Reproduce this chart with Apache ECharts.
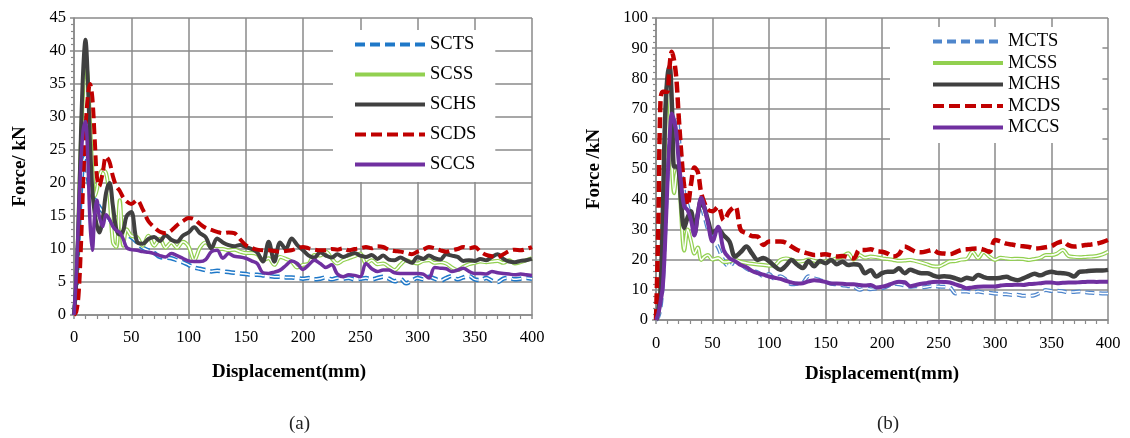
<!DOCTYPE html>
<html>
<head>
<meta charset="utf-8">
<script src="https://cdn.jsdelivr.net/npm/echarts@6/dist/echarts.min.js"></script>
<style>
html, body { margin: 0; padding: 0; background: #fff; }
#chart { width: 1130px; height: 438px; }
</style>
</head>
<body>
<div id="chart"></div>
<script>
// displacement samples (mm), shared by both panels
const disp = [0, 2, 4, 6, 8, 10, 12, 14, 16, 18, 20, 22, 25, 28, 31, 34, 37, 40, 43, 46, 50,
  55, 60, 65, 70, 75, 80, 85, 90, 95, 100,
  105, 110, 115, 120, 125, 130, 135, 140, 145, 150,
  155, 160, 165, 170, 175, 180, 185, 190, 195, 200,
  205, 210, 215, 220, 225, 230, 235, 240, 245, 250,
  255, 260, 265, 270, 275, 280, 285, 290, 295, 300,
  305, 310, 315, 320, 325, 330, 335, 340, 345, 350,
  355, 360, 365, 370, 375, 380, 385, 390, 395, 400]

// panel (a) force, kN
const scts = [0, 4, 12, 19, 23, 24, 21, 19, 18, 17.5, 17, 16.4, 15.7, 15.4, 14.6, 13.8, 13.3, 12.8, 12.4, 12.1, 11.8,
  11, 10.2, 9.8, 9.4, 8.8, 8.7, 8.6, 8.3, 8.0, 7.6,
  7.2, 7.0, 6.8, 6.6, 6.7, 6.6, 6.5, 6.4, 6.3, 6.2,
  6.1, 6.1, 6.0, 5.9, 5.8, 5.8, 5.7, 5.7, 5.6, 5.5,
  5.6, 5.4, 5.5, 5.7, 5.4, 5.6, 5.5, 5.6, 5.4, 5.5,
  5.6, 5.4, 5.6, 5.8, 5.5, 5.1, 5.5, 4.8, 5.2, 5.6,
  5.4, 5.8, 5.5, 5.2, 5.6, 5.9, 5.4, 5.7, 5.9, 5.4,
  5.3, 5.6, 5.2, 5.0, 5.5, 5.6, 5.4, 5.5, 5.6, 5.5]
const scss = [0, 5, 15, 26, 34, 38.5, 36, 29, 22, 18, 19, 21, 22, 21.5, 18, 11, 10.3, 17.4, 10.5, 13, 12,
  11.8, 10.5, 12, 10.5, 11.5, 10.2, 11, 10.2, 11.1, 10.4,
  8.3, 10.2, 11, 10.2, 10, 10, 9.8, 9.9, 9.6, 9.4,
  9.4, 9.2, 8.3, 8.6, 7.6, 8.8, 8.5, 8.1, 7.2, 7.6,
  7.8, 9.1, 9.0, 9.6, 8.6, 7.8, 8.3, 8.6, 8.9, 9.3,
  7.8, 8.3, 7.7, 7.8, 7.3, 6.8, 7.6, 8.3, 8.0, 7.8,
  8.2, 8.3, 7.9, 8.0, 7.8, 7.2, 6.8, 7.3, 7.7, 7.9,
  8.1, 8.0, 8.1, 8.2, 7.9, 8.3, 7.8, 8.0, 8.3, 8.6]
const schs = [0, 5, 14, 27, 37, 41.7, 36, 26, 19, 15.5, 13.5, 12.5, 14.5, 18.5, 20, 16.5, 13, 12.2, 12.8, 15, 15.6,
  11.1, 10.8, 11.5, 11.8, 11.2, 12.1, 11.4, 11.1, 12, 12.5,
  13.3, 12.4, 11.8, 10.1, 11.6, 11, 10.6, 10.4, 10.6, 10.3,
  10, 9.5, 8.1, 11.1, 8.1, 11, 10, 11.6, 10.6, 9.8,
  9, 8.7, 9.5, 9, 8.7, 9.2, 8.8, 9.1, 9.4, 9,
  8.8, 9.1, 8.5, 9, 8.4, 8.3, 8.7, 8.3, 7.9, 8.8,
  8.5, 9, 8.6, 8.4, 9.2, 9, 8.8, 8.2, 8.3, 8.2,
  8.5, 8.3, 8.8, 9.2, 8.5, 8.1, 8, 8.2, 8.3, 8.5]
const scds = [0, 0.5, 3, 10, 20, 28, 33, 35, 33, 27, 21, 19.5, 21.5, 24, 23.2, 21, 19.5, 18.8, 17.8, 17.2, 16.8,
  17.4, 16, 14.2, 13.3, 12.6, 12.4, 12.8, 13.6, 14.2, 14.7,
  14.5, 13.8, 13.2, 12.9, 12.6, 12.4, 12.5, 12.4, 11.5, 10.6,
  10.2, 9.9, 9.8, 9.8, 9.7, 9.6, 9.7, 9.8, 10.1, 10.3,
  10.1, 9.9, 9.8, 9.8, 10, 9.9, 10.1, 9.8, 10, 10.1,
  10.3, 10.1, 10.4, 10.3, 9.9, 9.7, 9.6, 9.4, 9.2, 9.6,
  9.9, 10.3, 10.1, 9.8, 9.6, 9.8, 10, 10.3, 10.1, 10.3,
  9.6, 9.1, 8.9, 8.8, 9.2, 9.7, 9.9, 9.8, 10, 10.3]
const sccs = [0, 6, 15, 23, 28, 29.3, 24, 14, 9.8, 15, 17.4, 15, 13.4, 15.2, 14.5, 13.4, 12.8, 12.5, 11.5, 10.2, 9.9,
  9.8, 9.6, 9.5, 9.3, 9.0, 8.8, 9.3, 9.0, 8.6, 8.2,
  8.1, 8.1, 8.4, 9.6, 9.8, 8.6, 9.3, 8.9, 8.8, 8.6,
  8.2, 7.8, 6.4, 6.3, 6.5, 6.8, 7.5, 8.2, 7.8, 6.9,
  7.6, 8.3, 7.8, 7.2, 7.6, 6.2, 5.8, 6.1, 6.0, 5.8,
  7.8, 7.0, 6.6, 6.8, 6.8, 6.4, 6.3, 6.3, 6.3, 6.3,
  6.2, 5.6, 7.2, 7.1, 7.0, 6.6, 6.8, 7.1, 6.6, 6.3,
  6.3, 6.2, 6.6, 6.4, 6.3, 6.2, 6.1, 6.2, 6.1, 6.0]

// panel (b) force, kN
const mcts = [0, 1, 4, 12, 28, 46, 58, 64, 66.5, 67.3, 62, 52, 42, 38, 34, 31, 35, 37, 34, 30, 27,
  24, 19.5, 17.7, 19.5, 18.5, 17, 16.2, 15.8, 14.5, 15.2,
  13.6, 14.5, 13.4, 11.8, 12, 12.4, 14.5, 13.8, 13.2, 12.6,
  12, 11.8, 11.5, 11.2, 11, 10, 10.5, 10.2, 10.4, 10.5,
  11.2, 12, 11.8, 11.4, 11, 11.2, 10.8, 11, 11.3, 11.1,
  11, 10.8, 8.8, 9.4, 9.4, 9.2, 9.4, 9.1, 9.0, 8.8,
  8.6, 8.5, 8.3, 8.4, 8.0, 8.0, 8.2, 9.0, 9.9, 9.6,
  9.7, 9.5, 9.2, 9.3, 9.4, 9.2, 9.0, 8.9, 8.8, 8.8]
const mcss = [0, 2, 8, 30, 60, 78, 72, 52, 42, 48, 50.8, 37, 23, 30, 26, 22, 24, 19.9, 21, 21.5, 20,
  20.5, 19.2, 19.4, 19.9, 19.3, 18.9, 18.6, 18.4, 18.2, 18,
  18.2, 19.9, 20.4, 20, 19.3, 19.5, 20, 19.6, 19.1, 19.5,
  19.8, 20.5, 21, 22.1, 20, 21.5, 20.6, 21, 20.8, 20.4,
  20.2, 19.9, 19.6, 19.7, 19.9, 19.5, 19.0, 18.4, 17.8, 17.7,
  18.5, 19.4, 19.5, 20, 20.2, 22.6, 20.5, 22.5, 21, 19.9,
  20.6, 20.4, 20.2, 20.3, 20.2, 19.9, 20.2, 20.6, 21.5, 21.5,
  22, 23.2, 21.2, 20.9, 20.8, 20.9, 21.0, 21.2, 21.7, 22.6]
const mchs = [0, 3, 10, 35, 66, 80, 84, 72, 50.8, 50.8, 50, 40, 30.5, 34, 36, 28.5, 35, 39.7, 37, 33, 29,
  30, 28, 26, 21, 22.5, 24.3, 22, 19.9, 20.5, 19.5,
  17.8, 16.6, 18, 19.9, 18.3, 17.2, 19.5, 17.8, 19.5, 18.8,
  19.9, 18.5, 19.3, 18.2, 18.5, 18.2, 15.5, 16.5, 14.4, 15.5,
  16, 16, 17.1, 15.5, 16.6, 16, 15.5, 15.5, 14.8, 14.3,
  14.5, 14.3, 13.8, 13.2, 14.0, 13.6, 14.9, 14.2, 13.8, 13.8,
  14.0, 14.3, 13.6, 13.2, 13.8, 14.6, 15.3, 14.8, 15.5, 16.0,
  15.6, 15.5, 15.2, 14.4, 16.0, 16.1, 16.3, 16.4, 16.4, 16.6]
const mcds = [0, 30, 73, 75.6, 75.6, 75.6, 84, 88.8, 86, 80, 68, 57, 44, 38, 45, 50.5, 49, 42, 38.6, 36.5, 36,
  37.5, 33, 36, 37.5, 29.8, 28.7, 27.8, 27.6, 24.8, 26,
  26, 26, 25.6, 24.3, 23.2, 22.5, 22, 21.5, 21.6, 21.8,
  21.3, 21, 21.2, 20.8, 20.4, 23.2, 23.2, 23.4, 22.8, 22.6,
  22, 21, 21.8, 24.3, 23.5, 22.6, 22.4, 22.8, 23.2, 22.2,
  22, 21.8, 22.4, 23.2, 23.4, 23.6, 23.7, 23.3, 22.6, 26.5,
  26, 25.3, 25, 24.6, 24.4, 24.2, 23.7, 23.8, 24.1, 24.5,
  25.5, 26, 24.8, 24.3, 24.5, 24.8, 25, 25.3, 25.8, 26.5]
const mccs = [0, 2, 6, 11, 25, 44, 60, 68.4, 66, 62, 53, 46, 37.5, 36.4, 33, 28, 35, 40.5, 37, 32, 26,
  30.9, 23, 20.5, 19.5, 18.2, 17.5, 16.2, 15.5, 15, 14.4,
  14, 13.6, 13, 12.4, 12.1, 12.2, 12.8, 13.2, 13, 12.6,
  12.1, 12.1, 12, 11.8, 11.8, 11.6, 11.4, 11.6, 10.8, 11,
  11.5, 12.2, 12.7, 12.5, 11.2, 11.6, 12, 12.3, 12.6, 12.7,
  12.6, 12.4, 11.8, 11.2, 10.5, 10.8, 11.0, 11.1, 11.1, 11.1,
  11.4, 11.6, 11.6, 11.7, 11.6, 11.9, 12.0, 12.2, 12.4, 12.4,
  12.2, 12.3, 12.4, 12.4, 12.5, 12.6, 12.7, 12.6, 12.7, 12.7]

const namesA = ['SCTS', 'SCSS', 'SCHS', 'SCDS', 'SCCS']
const namesB = ['MCTS', 'MCSS', 'MCHS', 'MCDS', 'MCCS']
const xTicks = { min: 0, max: 400, interval: 50 }
const yTicksA = { min: 0, max: 45, interval: 5 }
const yTicksB = { min: 0, max: 100, interval: 10 }

const FONT = '"Liberation Serif", "Times New Roman", serif'
const GRIDC = '#8a8a8a'

function pairs(ys) {
  return disp.map((d, i) => [d, ys[i]])
}

function line(name, ys, gi, color, width, dash) {
  return {
    name: name,
    type: 'line',
    xAxisIndex: gi,
    yAxisIndex: gi,
    data: pairs(ys),
    symbol: 'none',
    smooth: 0.35,
    lineStyle: { color: color, width: width, type: dash || 'solid' },
    itemStyle: { color: color },
    emphasis: { disabled: true }
  }
}

function xAxis(gi, gap, pad, margin) {
  return {
    type: 'value',
    gridIndex: gi,
    ...xTicks,
    name: 'Displacement(mm)',
    nameLocation: 'middle',
    nameGap: gap,
    nameTextStyle: { fontFamily: FONT, fontWeight: 'bold', fontSize: 19, color: '#000', padding: pad },
    axisLine: { lineStyle: { color: GRIDC, width: 1.5 } },
    axisTick: { show: true, length: 4, lineStyle: { color: GRIDC, width: 1.5 } },
    minorTick: { show: true, splitNumber: 5, length: 4, lineStyle: { color: GRIDC, width: 1.2 } },
    axisLabel: { fontFamily: FONT, fontSize: 16.5, color: '#000', margin: margin },
    splitLine: { show: true, lineStyle: { color: GRIDC, width: 1.5 } }
  }
}

function yAxis(gi, ticks, name, gap) {
  return {
    type: 'value',
    gridIndex: gi,
    ...ticks,
    name: name,
    nameLocation: 'middle',
    nameGap: gap,
    nameTextStyle: { fontFamily: FONT, fontWeight: 'bold', fontSize: 19, color: '#000' },
    axisLine: { show: true, lineStyle: { color: GRIDC, width: 1.5 } },
    axisTick: { show: true, length: 4, lineStyle: { color: GRIDC, width: 1.5 } },
    minorTick: { show: true, splitNumber: 5, length: 3, lineStyle: { color: GRIDC, width: 1.2 } },
    axisLabel: { fontFamily: FONT, fontSize: 16.5, color: '#000', margin: 8 },
    splitLine: { show: true, lineStyle: { color: GRIDC, width: 1.5 } }
  }
}

function legend(names, left, top, gap, padding) {
  return {
    data: names,
    orient: 'vertical',
    left: left,
    top: top,
    padding: padding,
    itemGap: gap,
    itemWidth: 70,
    itemHeight: 14,
    selectedMode: false,
    backgroundColor: '#fff',
    itemStyle: { opacity: 0 },
    lineStyle: { width: 4 },
    textStyle: { fontFamily: FONT, fontSize: 18.5, color: '#000' }
  }
}

const chart = echarts.init(document.getElementById('chart'))
chart.setOption({
  animation: false,
  backgroundColor: '#fff',
  grid: [
    { left: 74, top: 18, width: 458, height: 297 },
    { left: 656, top: 18, width: 452, height: 302 }
  ],
  xAxis: [xAxis(0, 48, [0, 28, 0, 0], 14), xAxis(1, 45, 0, 15)],
  yAxis: [yAxis(0, yTicksA, 'Force/ kN', 44), yAxis(1, yTicksB, 'Force /kN', 52)],
  legend: [
    legend(namesA, 333, 30, 11, [5, 19, 8, 20]),
    legend(namesB, 890, 27, 2.5, [5, 42, 6, 41])
  ],
  graphic: [
    { type: 'text', left: 289, top: 415, style: { text: '(a)', font: '19px ' + FONT, fill: '#222' } },
    { type: 'text', left: 877, top: 415, style: { text: '(b)', font: '19px ' + FONT, fill: '#222' } }
  ],
  series: [
    line('SCTS', scts, 0, '#1f78c8', 4.5, [10, 5]),
    line('SCTS-in', scts, 0, '#fff', 1.5, [10, 5]),
    line('SCSS', scss, 0, '#92d050', 4),
    line('SCSS-in', scss, 0, '#fff', 1.6),
    line('SCHS', schs, 0, '#404040', 4),
    line('SCDS', scds, 0, '#c00000', 4, [11, 5]),
    line('SCCS', sccs, 0, '#7030a0', 3.5),

    line('MCTS', mcts, 1, '#4f86cc', 4, [9, 5]),
    line('MCTS-in', mcts, 1, '#fff', 1.5, [9, 5]),
    line('MCSS', mcss, 1, '#92d050', 4),
    line('MCSS-in', mcss, 1, '#fff', 1.6),
    line('MCHS', mchs, 1, '#404040', 4.5),
    line('MCDS', mcds, 1, '#c00000', 4.5, [11, 5]),
    line('MCCS', mccs, 1, '#7030a0', 4)
  ]
})
</script>
</body>
</html>
